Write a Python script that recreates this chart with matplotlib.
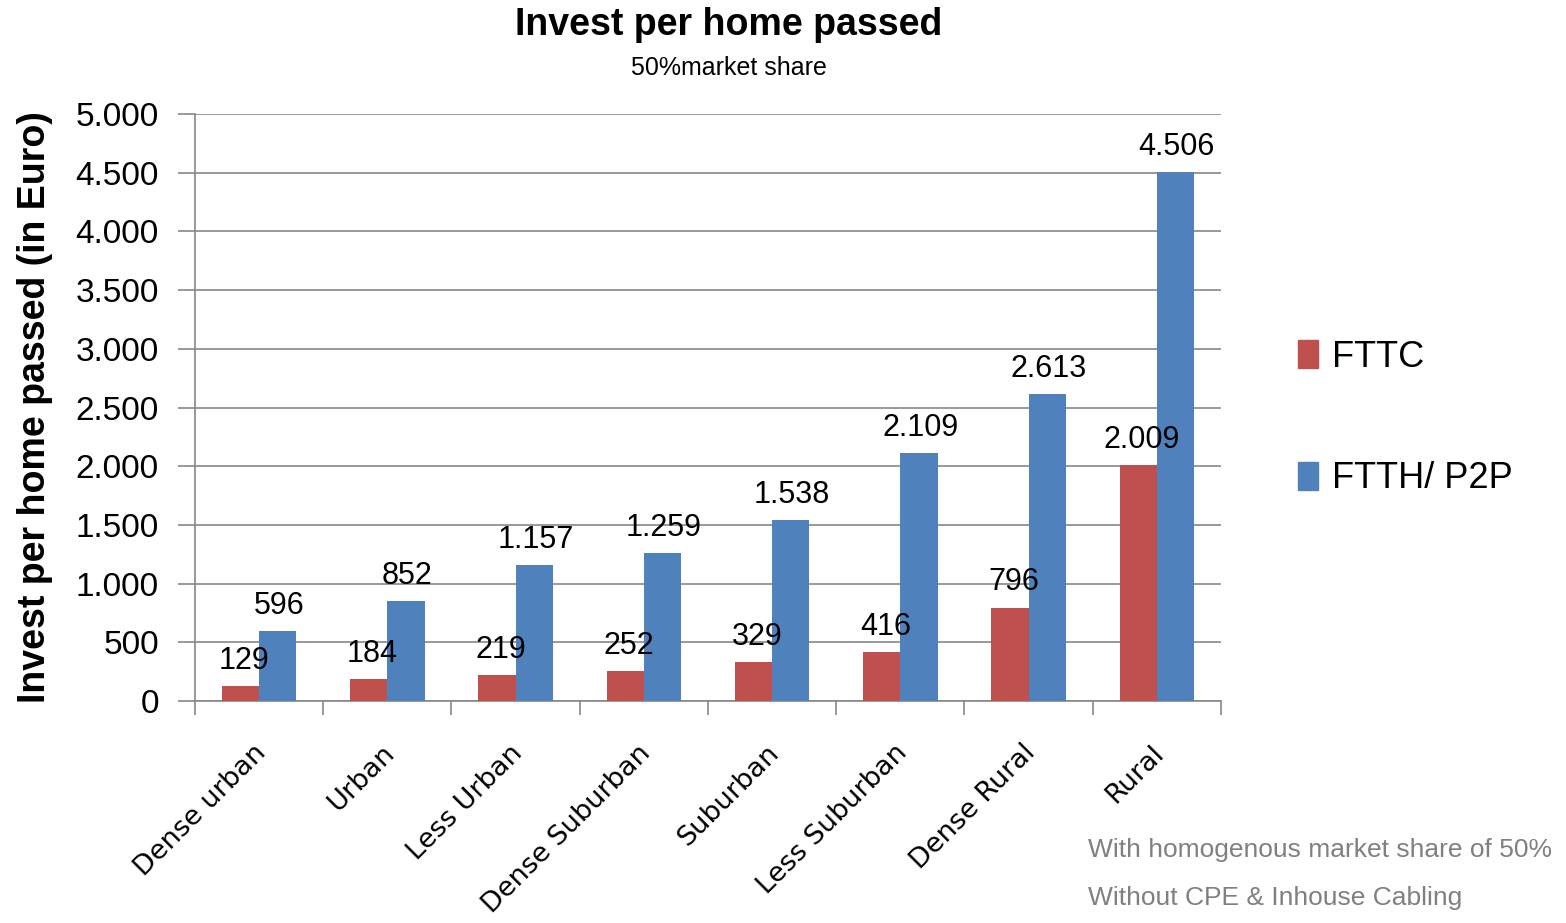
import numpy as np
import matplotlib.pyplot as plt
import matplotlib.transforms as mtransforms
from matplotlib.patches import Patch

plt.rcParams['font.family'] = ['Liberation Sans', 'DejaVu Sans']

categories = ["Dense urban", "Urban", "Less Urban", "Dense Suburban",
              "Suburban", "Less Suburban", "Dense Rural", "Rural"]
fttc = [129, 184, 219, 252, 329, 416, 796, 2009]
ftth = [596, 852, 1157, 1259, 1538, 2109, 2613, 4506]
y_ticks = [0, 500, 1000, 1500, 2000, 2500, 3000, 3500, 4000, 4500, 5000]
y_tick_labels = ["0", "500", "1.000", "1.500", "2.000", "2.500", "3.000",
                 "3.500", "4.000", "4.500", "5.000"]

RED = "#C0504D"
BLUE = "#4F81BD"
GRID = "#878787"


def fmt(v):
    return f"{v:,}".replace(",", ".")


fig = plt.figure(figsize=(15.66, 9.23), dpi=100)
ax = fig.add_axes([0.1245, 0.2405, 0.6552, 0.636])

x = np.arange(len(categories))
w = 0.29
ax.bar(x - w / 2, fttc, w, color=RED, label="FTTC", zorder=3)
ax.bar(x + w / 2, ftth, w, color=BLUE, label="FTTH/ P2P", zorder=3)

# value labels above the bars
for xi, a, b in zip(x, fttc, ftth):
    ax.text(xi - w / 2 + 0.03, a + 215, fmt(a), ha="center", va="center", fontsize=22)
    ax.text(xi + w / 2 + 0.01, b + 215, fmt(b), ha="center", va="center", fontsize=22)

ax.set_xlim(-0.5, len(categories) - 0.5)
ax.set_ylim(0, 5000)
ax.set_yticks(y_ticks)
ax.set_yticklabels(y_tick_labels, fontsize=24)
ax.yaxis.grid(True, color=GRID, linewidth=1.2, zorder=0)
ax.tick_params(axis="y", length=12, color=GRID, width=1.2, pad=14)

# category boundary ticks
ax.set_xticks(np.arange(len(categories) + 1) - 0.5, minor=False)
ax.set_xticklabels([])
ax.tick_params(axis="x", length=10, color=GRID, width=1.2)
ax.set_xticks(x, minor=True)
ax.set_xticklabels(categories, minor=True, rotation=45, ha="right",
                   rotation_mode="anchor", fontsize=19.5, family="DejaVu Sans")
ax.tick_params(axis="x", which="minor", length=0, pad=28)
shift = mtransforms.ScaledTranslation(-6 / 100, 0, fig.dpi_scale_trans)
for lbl in ax.get_xticklabels(minor=True):
    lbl.set_transform(lbl.get_transform() + shift)

for side in ["top", "right"]:
    ax.spines[side].set_visible(False)
ax.spines["left"].set_color(GRID)
ax.spines["bottom"].set_color(GRID)
ax.spines["left"].set_linewidth(1.2)
ax.spines["bottom"].set_linewidth(1.2)

ax.set_ylabel("Invest per home passed (in Euro)", fontsize=27, fontweight="bold", labelpad=16)

fig.text(0.4655, 0.973, "Invest per home passed", ha="center", va="center",
         fontsize=27, fontweight="bold")
fig.text(0.4655, 0.926, "50%market share", ha="center", va="center", fontsize=18)

handles = [Patch(color=RED, label="FTTC"), Patch(color=BLUE, label="FTTH/ P2P")]
fig.legend(handles=handles, loc="center left", bbox_to_anchor=(0.808, 0.547),
           frameon=False, labelspacing=2.4, handlelength=0.55,
           handleheight=0.8, handletextpad=0.4,
           prop={"family": ["Liberation Sans Narrow", "Liberation Sans"], "size": 26})

fig.text(0.695, 0.079, "With homogenous market share of 50%", color="#808080", fontsize=19,
         va="center")
fig.text(0.695, 0.027, "Without CPE & Inhouse Cabling", color="#808080", fontsize=19,
         va="center")

fig.savefig("out.png", dpi=100)
